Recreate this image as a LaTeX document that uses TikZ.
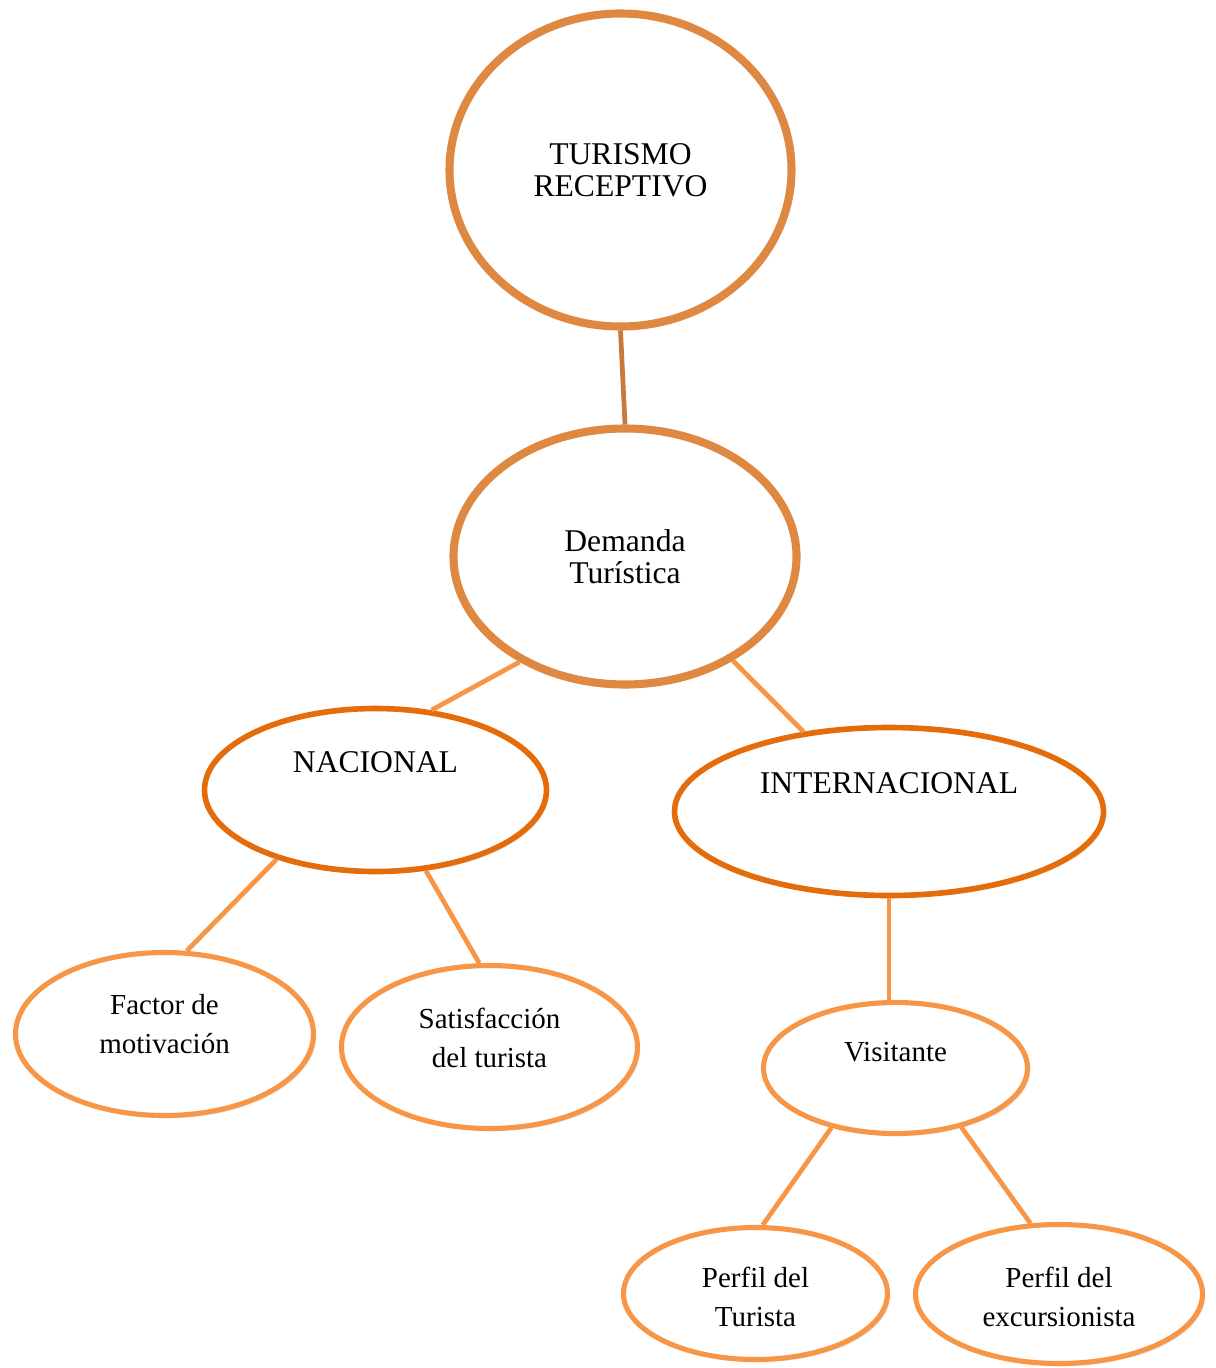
\documentclass[tikz,border=0pt]{standalone}
\usepackage{fontspec}
\setmainfont{Liberation Serif}
\usetikzlibrary{shapes.geometric,shadows}

\definecolor{ovaltop}{HTML}{DF8842}
\definecolor{ovalmid}{HTML}{E46C0A}
\definecolor{ovallow}{HTML}{F79646}
\definecolor{linktop}{HTML}{C87A3C}

\tikzset{
  oval/.style={ellipse, inner sep=0pt, fill=white,
    drop shadow={opacity=0.18, shadow xshift=1.5pt, shadow yshift=-1.5pt}},
  topoval/.style={oval, draw=ovaltop, line width=4.6pt},
  midoval/.style={oval, draw=ovalmid, line width=3.2pt},
  lowoval/.style={oval, draw=ovallow, line width=2.9pt},
  bigtext/.style={align=center, font=\fontsize{18}{18.2}\selectfont},
  smalltext/.style={align=center, font=\fontsize{16.5}{22.2}\selectfont},
  link/.style={draw=ovallow, line width=2.7pt}
}

\begin{document}
\begin{tikzpicture}
            \useasboundingbox (0,0) rectangle (24.3,-27.36);

            % Top levels
            \node[topoval, minimum width=6.84cm, minimum height=6.26cm] (tur) at (12.41,-3.40) {};
            \node[bigtext] (turtext) at (tur.center) {TURISMO\\RECEPTIVO};
            \node[topoval, minimum width=6.86cm, minimum height=5.12cm] (dem) at (12.50,-11.13) {};
            \node[bigtext] (demtext) at (dem.center) {Demanda\\Turística};

            % Nacional / internacional
            \node[midoval, minimum width=6.84cm, minimum height=3.26cm] (nac) at (7.51,-15.80) {};
            \node[bigtext] (nactext) at ([yshift=0.56cm]nac.center) {NACIONAL};
            \node[midoval, minimum width=8.58cm, minimum height=3.36cm] (intl) at (17.78,-16.23) {};
            \node[bigtext] (intltext) at ([yshift=0.56cm]intl.center) {INTERNACIONAL};

            % Lower ovals
            \node[lowoval, minimum width=5.96cm, minimum height=3.26cm] (fac) at (3.29,-20.68) {};
            \node[smalltext] (factext) at ([yshift=0.2cm]fac.center) {Factor de\\motivación};
            \node[lowoval, minimum width=5.92cm, minimum height=3.26cm] (sat) at (9.79,-20.94) {};
            \node[smalltext] (sattext) at ([yshift=0.18cm]sat.center) {Satisfacción\\del turista};
            \node[lowoval, minimum width=5.28cm, minimum height=2.62cm] (vis) at (17.91,-21.36) {};
            \node[smalltext] (vistext) at ([yshift=0.32cm]vis.center) {Visitante};
            \node[lowoval, minimum width=5.28cm, minimum height=2.64cm] (ptur) at (15.11,-25.87) {};
            \node[smalltext] (ptext) at ([yshift=-0.06cm]ptur.center) {Perfil del\\Turista};
            \node[lowoval, minimum width=5.74cm, minimum height=2.78cm] (pexc) at (21.18,-25.88) {};
            \node[smalltext] (petext) at ([yshift=-0.05cm]pexc.center) {Perfil del\\excursionista};

            % Connectors
            \draw[link, draw=linktop] (tur.south) -- (dem.north);
            \draw[link] (dem.225) -- (nac.55);
            \draw[link] (dem.316) -- (intl.137);
            \draw[link] (nac.215) -- (fac.75);
            \draw[link] (nac.302) -- (sat.97);
            \draw[link] (intl.south) -- (intl.south |- vis.north);
            \draw[link] (vis.223) -- (ptur.84);
            \draw[link] (vis.318) -- (pexc.112);
        \end{tikzpicture}
\end{document}
